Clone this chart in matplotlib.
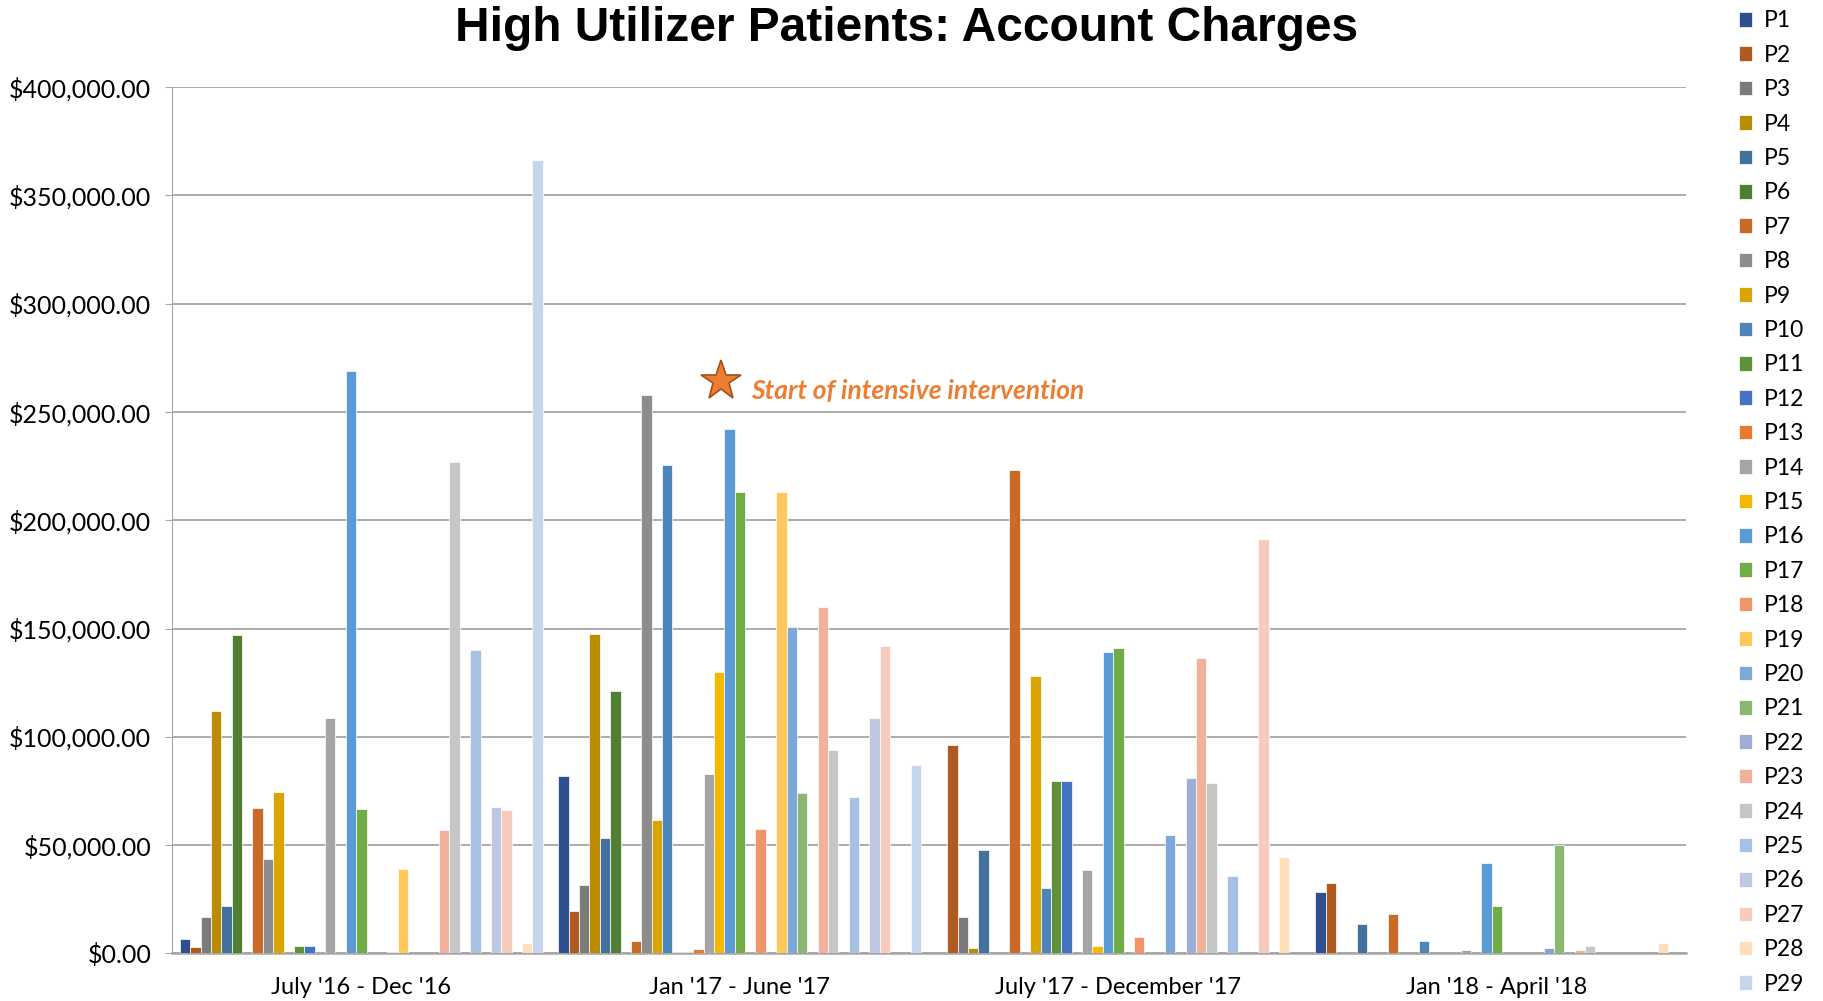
import numpy as np
import matplotlib
matplotlib.use('Agg')
import matplotlib.pyplot as plt
from matplotlib.ticker import FuncFormatter, MultipleLocator

# periodos (categorias do eixo x)
periods = ["July '16 - Dec '16", "Jan '17 - June '17",
           "July '17 - December '17", "Jan '18 - April '18"]

# series na ordem das barras; '' = serie sem entrada na legenda
series = ['P1', 'P2', 'P3', 'P4', 'P5', 'P6', '',
          'P7', 'P8', 'P9', 'P10', 'P11', 'P12', 'P13', 'P14', 'P15', 'P16', 'P17', '',
          'P18', '', 'P19', 'P20', 'P21', 'P22', 'P23', 'P24', '',
          'P25', '', 'P26', 'P27', '', 'P28', 'P29']

# valores de cada periodo, mesma ordem das series
jul16 = [6800, 3100, 16900, 111800, 21800, 147000, 300,
         67200, 43800, 74500, 0, 3600, 3600, 0, 108600, 0, 268800, 66500, 300,
         0, 400, 38900, 0, 0, 0, 56800, 226900, 300,
         140300, 300, 67700, 66000, 0, 4800, 366500]
jan17 = [82000, 19500, 31500, 147600, 53300, 121200, 0,
         5700, 257900, 61600, 225500, 500, 500, 2100, 83000, 129800, 242300, 213200, 0,
         57500, 0, 213200, 150500, 74100, 0, 159900, 93800, 0,
         72300, 0, 108600, 141800, 0, 0, 87000]
jul17 = [0, 96400, 16800, 2500, 47800, 0, 0,
         223000, 0, 128300, 30300, 79400, 79400, 0, 38600, 3200, 139300, 141100, 0,
         7600, 0, 0, 54700, 0, 80800, 136500, 78500, 0,
         35500, 0, 0, 191200, 0, 44500, 0]
jan18 = [28500, 32300, 0, 0, 13400, 0, 0,
         18300, 0, 0, 5500, 300, 300, 0, 1700, 0, 41500, 21700, 0,
         0, 0, 0, 2600, 50000, 0, 1500, 3200, 0,
         0, 0, 0, 0, 0, 4800, 0]

# cores estilo Excel (acentos em varias tonalidades)
colors = ['#2F5090', '#AE5A21', '#7B7B7B', '#BC8C00', '#41719C', '#507E32',
          '#3A62AE', '#C96A28', '#8C8C8C', '#DAA500', '#4D85BA', '#5E913A',
          '#4472C4', '#E97A30', '#A5A5A5', '#F5B800', '#5B9BD5', '#70AD47',
          '#6F8FD0', '#F0946A', '#B7B7B7', '#FFC85A', '#7CA9DA', '#8BB870',
          '#9EAED7', '#F2B19A', '#C6C6C6', '#FFD591', '#A7C1E4', '#A9CA93',
          '#BEC8E2', '#F6CABD', '#D9D9D9', '#FEDFB9', '#C5D5EB']

valores = np.array([jul16, jan17, jul17, jan18])

fig = plt.figure(figsize=(18.23, 10.01), dpi=100)
ax = fig.add_axes([0.0944, 0.0476, 0.8305, 0.8653])

n = len(series)
x = np.arange(len(periods))
largura = 1 / (n + 1.5)

handles = []
labels = []
for i, nome in enumerate(series):
    offset = (i - (n - 1) / 2) * largura
    barras = ax.bar(x + offset, valores[:, i], largura, color=colors[i],
                    edgecolor='white', linewidth=0.5, zorder=3)
    if nome:
        handles.append(barras)
        labels.append(nome)

ax.set_xlim(-0.5, len(periods) - 0.5)
ax.set_ylim(0, 400000)
ax.yaxis.set_major_locator(MultipleLocator(50000))
ax.yaxis.set_major_formatter(FuncFormatter(lambda v, p: '${:,.2f}'.format(v)))
ax.set_xticks(x)
ax.set_xticklabels(periods)

# grade e eixos
ax.grid(axis='y', color='#A6A6A6', linewidth=1.3, zorder=0)
for lado in ['top', 'right']:
    ax.spines[lado].set_visible(False)
ax.spines['left'].set_color('#A6A6A6')
ax.spines['bottom'].set_color('#A6A6A6')
ax.spines['bottom'].set_linewidth(1.8)
ax.tick_params(axis='y', length=5, color='#A6A6A6', labelsize=18, pad=10)
ax.tick_params(axis='x', length=0, labelsize=17, pad=17)
for t in ax.get_xticklabels() + ax.get_yticklabels():
    t.set_fontfamily('Lato')

# titulo
fig.text(0.4974, 0.972, 'High Utilizer Patients: Account Charges', ha='center', va='center',
         fontsize=34.5, fontweight='bold', family='Liberation Sans')

# anotacao do inicio da intervencao
ax.plot(0.95, 264500, marker='*', markersize=30, color='#ED7D31',
        markeredgecolor='#A0521E', markeredgewidth=1.2, zorder=5)
ax.text(1.03, 259500, 'Start of intensive intervention', color='#ED7D31',
        fontsize=19, fontweight='bold', style='italic', family='Lato',
        va='center', ha='left', zorder=5)

# legenda
fig.legend(handles, labels, loc='upper left', bbox_to_anchor=(0.948, 1.0),
           frameon=False, prop={'family': 'Lato', 'size': 16.5},
           handlelength=0.6, handleheight=0.6, handletextpad=0.5,
           labelspacing=0.585, borderaxespad=0.05)

fig.savefig('out.png', dpi=100)
